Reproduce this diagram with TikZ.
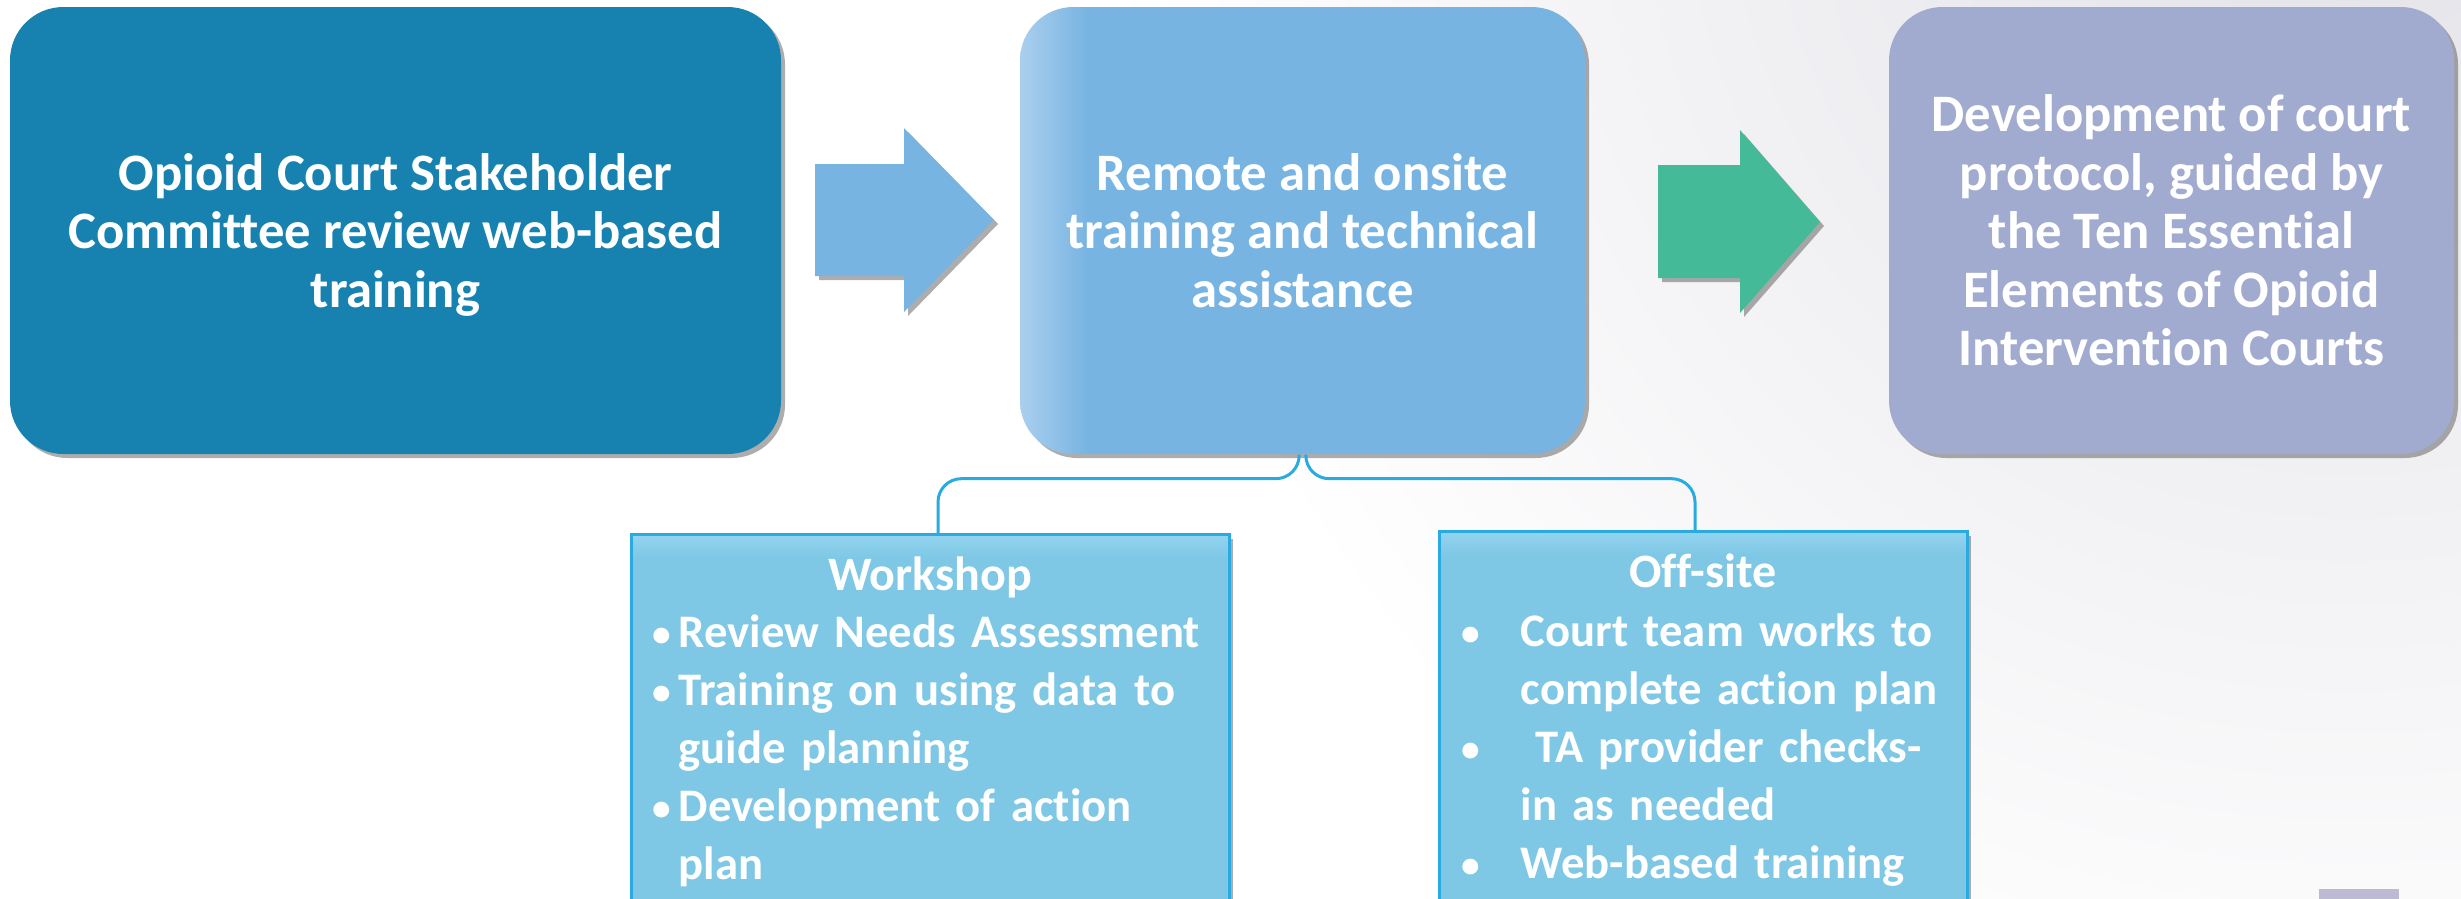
\documentclass[tikz,border=0pt]{standalone}
\usepackage{fontspec}
\setmainfont{Carlito}[Ligatures=NoCommon]
\usetikzlibrary{positioning}
\usetikzlibrary{shadows}
\usetikzlibrary{calc}

\definecolor{stakeblue}{HTML}{1782B0}
\definecolor{trainblue}{HTML}{78B4E2}
\definecolor{trainedge}{HTML}{AACFEE}
\definecolor{protoblue}{HTML}{A1ABCF}
\definecolor{flowgreen}{HTML}{44BA98}
\definecolor{listfill}{HTML}{7EC7E5}
\definecolor{listtop}{HTML}{93D4EF}
\definecolor{listline}{HTML}{29ABE2}
\definecolor{bggray}{HTML}{E2E2E8}
\definecolor{tagfill}{HTML}{BDBBD3}

% light left edge of the middle step, light top strip of the cards
\pgfdeclarehorizontalshading{trainshade}{100bp}{color(0bp)=(trainedge); color(25bp)=(trainedge);
  color(31bp)=(trainblue); color(100bp)=(trainblue)}
\pgfdeclareverticalshading{listshade}{100bp}{color(0bp)=(listfill); color(72bp)=(listfill);
  color(75bp)=(listtop); color(100bp)=(listtop)}

% bullet with hanging indent
\newcommand{\blt}[2]{\par\hangindent=#1\hangafter=1\noindent
  \makebox[#1][l]{\hspace*{0.6pt}\raisebox{0.5pt}{\scalebox{0.8}{\textbullet}}}#2}

\begin{document}
\begin{tikzpicture}[x=0.3pt,y=-0.3pt,
  boxshadow/.style={drop shadow={shadow xshift=1.2pt,shadow yshift=-1.2pt,opacity=0.4,fill=black!80}},
  stepcard/.style={rounded corners=16pt,minimum height=134.1pt,text=white,align=center,
    font=\fontsize{15.8}{17.55}\selectfont\bfseries,boxshadow},
  listcard/.style={draw=listline,line width=0.9pt,shading=listshade,minimum height=120pt,anchor=north,boxshadow},
  listhead/.style={text=white,anchor=base,inner sep=0pt,font=\fontsize{14.4}{17.4}\selectfont\bfseries},
  listtext/.style={text=white,anchor=north west,inner sep=0pt,align=left,
    font=\fontsize{14}{17.4}\selectfont\bfseries},
  link/.style={draw=listline,line width=0.9pt,rounded corners=7pt}]

  % page and background
  \useasboundingbox (0,0) rectangle (2461,898);
  \clip (0,0) rectangle (2461,898);
  \fill[white] (0,0) rectangle (2461,898);
  \shade[inner color=bggray,outer color=white] (2350,-150) circle (1250);

  % the three steps
  \node[stepcard,fill=stakeblue,minimum width=231.3pt] (stake) at (395.5,230.5)
    {Opioid Court Stakeholder\\Committee review web-based\\\smash{training}};
  \node[stepcard,shading=trainshade,minimum width=169.5pt] (train) at (1302.5,230.5)
    {Remote and onsite\\training and technical\\assistance};
  \node[stepcard,fill=protoblue,minimum width=169.5pt] (proto) at (2171.5,230.5)
    {Development of court\\protocol, guided by\\the Ten Essential\\Elements of Opioid\\Intervention Courts};

  % block arrows between steps
  \fill[trainblue,boxshadow] (815,164) -- (904,164) -- (904,128) -- (994,220)
    -- (904,312) -- (904,276) -- (815,276) -- cycle;
  \fill[flowgreen,boxshadow] (1658,165) -- (1740,165) -- (1740,130) -- (1820,222)
    -- (1740,313) -- (1740,278) -- (1658,278) -- cycle;

  % detail cards
  \node[listcard,minimum width=179.4pt] (work) at (930,533) {};
  \node[listcard,minimum width=158.4pt] (off) at (1703,530) {};

  \node[listhead] (workhead) at ([yshift=-17.1pt]work.north) {Workshop};
  \node[listhead] (offhead) at ([yshift=-17.1pt]off.north) {Off-site};

  \node[listtext,text width=185pt] (worklist) at (650,589) {%
    \blt{8.4pt}{Review Needs Assessment}
    \blt{8.4pt}{Training on using data to\newline guide planning}
    \blt{8.4pt}{Development of action\newline plan}\par};
  \node[listtext,text width=165pt] (offlist) at (1459,588) {%
    \blt{18.3pt}{Court team works to\newline complete action plan}
    \blt{18.3pt}{\hspace*{4.5pt}TA provider checks-\newline in as needed}
    \blt{18.3pt}{Web-based training}\par};

  % brace from the middle step
  \draw[link] ([xshift=-1pt]train.south) -- ++(0,24) -| ([xshift=2.4pt]work.north);
  \draw[link] ([xshift=1pt]train.south) -- ++(0,24) -| ([xshift=-2.4pt]off.north);

  % slide tag
  \fill[tagfill] (2319,889) rectangle (2399,910);

\end{tikzpicture}
\end{document}
